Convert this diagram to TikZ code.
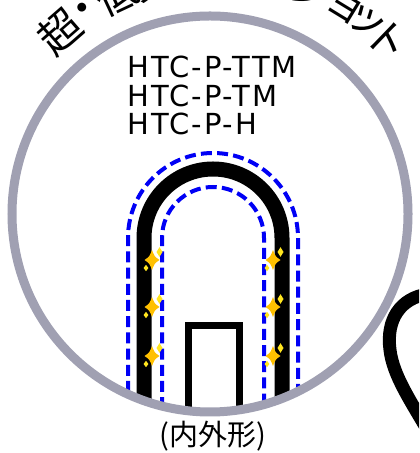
\documentclass[tikz,border=0pt]{standalone}
\usepackage{fontspec}
\setmainfont{DejaVu Sans}
\newfontfamily\jpfont{Noto Sans CJK JP}
\newfontfamily\modelfont[LetterSpace=7]{DejaVu Sans}

\definecolor{ringgrey}{HTML}{A0A0B2}
\definecolor{guideblue}{HTML}{0000F5}
\definecolor{sparkgold}{HTML}{FFC000}
\definecolor{sparkyellow}{HTML}{FFE51F}

% four-point star: centre x, centre y, half width, half height
\newcommand\sparkstar[4]{%
  (#1,#2+#4) .. controls (#1+0.34*#3,#2+0.34*#4) .. (#1+#3,#2)
  .. controls (#1+0.34*#3,#2-0.34*#4) .. (#1,#2-#4)
  .. controls (#1-0.34*#3,#2-0.34*#4) .. (#1-#3,#2)
  .. controls (#1-0.34*#3,#2+0.34*#4) .. cycle}

\tikzset{
  pics/sparkle/.style={code={
    \fill[sparkgold] \sparkstar{0}{0}{7.5}{10};
    \fill[sparkyellow] \sparkstar{7.5}{8}{3}{4.8};
    \fill[sparkyellow] \sparkstar{-6}{-8}{2.4}{3.2};
  }}
}

\begin{document}
\begin{tikzpicture}[x=0.5pt, y=0.5pt,
  ring/.style={draw=ringgrey, line width=4.5pt},
  guide/.style={draw=guideblue, line width=2pt, dash pattern=on 5.5pt off 2.6pt},
  wall/.style={draw=black, line width=7.5pt},
  blank/.style={draw=black, line width=3.5pt, line join=miter},
  model/.style={font=\modelfont\fontsize{14.5}{15}\selectfont, anchor=base west, inner sep=0pt},
  jp/.style={font=\jpfont\fontsize{#1}{#1}\selectfont, inner sep=0pt}
]
\useasboundingbox (0,0) rectangle (419,453);
\clip (0,0) rectangle (419,453);

% title running round the top of the ring
\foreach \ch/\a [count=\i] in {超/131.1, ・/123.4, 低/115, 負/105.5, 荷/96,
    ワ/86.5, ン/77, シ/67.6, ョ/58.6, ッ/52.6, ト/46} {
  \node[jp=21, rotate=\a-90] (title-\i) at ([shift={(\a:242)}]219,239) {\ch};
}

% tool path and workpiece, cut off by the ring
\begin{scope}
  \clip (210,239) circle (198);
  \draw[guide] (128,-20) -- (128,215) arc (180:0:85) -- (298,-20);
  \draw[wall] (144,-20) -- (144,215) arc (180:0:69) -- (282,-20);
  \draw[guide] (162,-20) -- (162,215) arc (180:0:51) -- (264,-20);
  \draw[blank] (188,-20) -- (188,127.5) -- (239,127.5) -- (239,-20);
\end{scope}

% sparkles along the inner side of the wall
\foreach \y in {193, 146, 97} {
  \pic at (152,\y) {sparkle};
  \pic at (273,\y) {sparkle};
}

\draw[ring] (210,239) circle (198);

% model names
\node[model] (model-ttm) at (127,375) {HTC-P-TTM};
\node[model] (model-tm) at (127,346) {HTC-P-TM};
\node[model] (model-h) at (127,318) {HTC-P-H};

\node[jp=14.5] (profile) at (213,17) {(内外形)};

% neighbouring outline on the right
\draw[line width=6.5pt] (428,159) .. controls (400,155) and (386,133) .. (390,103)
  .. controls (393,78) and (410,53) .. (428,22);
\end{tikzpicture}
\end{document}
